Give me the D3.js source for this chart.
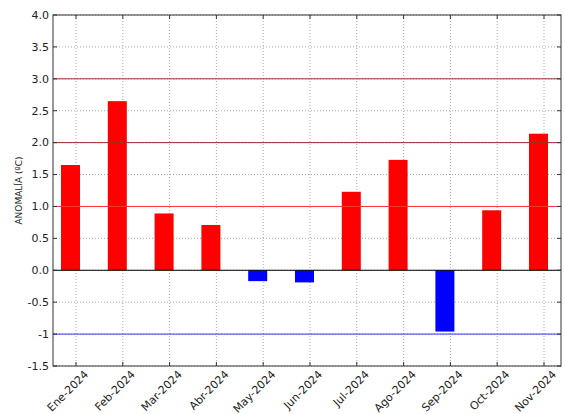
<!DOCTYPE html>
<html><head><meta charset="utf-8">
<script src="https://cdn.jsdelivr.net/npm/d3@7"></script>
<style>body{margin:0;background:#fff}text{font-family:"DejaVu Sans",sans-serif}</style>
</head><body><div id="chart"></div>
<script>
var months = ['Ene-2024','Feb-2024','Mar-2024','Abr-2024','May-2024','Jun-2024','Jul-2024','Ago-2024','Sep-2024','Oct-2024','Nov-2024'];
var anomalies = [1.65, 2.65, 0.89, 0.71, -0.17, -0.19, 1.23, 1.73, -0.96, 0.94, 2.14];
var yTicks = [-1.5, -1, -0.5, 0, 0.5, 1, 1.5, 2, 2.5, 3, 3.5, 4];
var yTickLabels = ['-1.5','-1','-0.5','0.0','0.5','1.0','1.5','2.0','2.5','3.0','3.5','4.0'];
var refLines = [[3, '#a52a2a'], [2, '#a52a2a'], [1, '#ff3333'], [0, '#000'], [-1, '#3333ff']];

var width = 565, height = 414;
var mLeft = 53, mRight = 561, mTop = 15, mBottom = 366;

var svg = d3.select('#chart').append('svg').attr('width', width).attr('height', height);

var x = d3.scaleLinear().domain([0, 10]).range([76, 544]);
var y = d3.scaleLinear().domain([-1.5, 4]).range([mBottom, mTop]);

// grid
svg.append('g').selectAll('line').data(yTicks).enter().append('line')
    .attr('x1', mLeft).attr('x2', mRight)
    .attr('y1', function(d) { return y(d); }).attr('y2', function(d) { return y(d); })
    .attr('stroke', '#aaa').attr('stroke-dasharray', '1,2');
svg.append('g').selectAll('line').data(months).enter().append('line')
    .attr('y1', mTop).attr('y2', mBottom)
    .attr('x1', function(d, i) { return x(i); }).attr('x2', function(d, i) { return x(i); })
    .attr('stroke', '#aaa').attr('stroke-dasharray', '1,2');

// bars (sit slightly left of the tick, as in the original)
var bw = 19;
svg.append('g').selectAll('rect').data(anomalies).enter().append('rect')
    .attr('x', function(d, i) { return x(i) - 15; })
    .attr('width', bw)
    .attr('y', function(d) { return y(Math.max(0, d)); })
    .attr('height', function(d) { return Math.abs(y(d) - y(0)); })
    .attr('fill', function(d) { return d >= 0 ? '#ff0000' : '#0000ff'; });

// reference lines
svg.append('g').selectAll('line').data(refLines).enter().append('line')
    .attr('x1', mLeft).attr('x2', mRight)
    .attr('y1', function(d) { return y(d[0]); }).attr('y2', function(d) { return y(d[0]); })
    .attr('stroke', function(d) { return d[1]; }).attr('stroke-width', 1);

// frame
svg.append('rect').attr('x', mLeft).attr('y', mTop).attr('width', mRight - mLeft).attr('height', mBottom - mTop)
    .attr('fill', 'none').attr('stroke', '#333');

// y ticks
var yAxis = svg.append('g');
yTicks.forEach(function(t, i) {
    yAxis.append('line').attr('x1', mLeft).attr('x2', mLeft + 4).attr('y1', y(t)).attr('y2', y(t)).attr('stroke', '#333');
    yAxis.append('line').attr('x1', mRight).attr('x2', mRight - 4).attr('y1', y(t)).attr('y2', y(t)).attr('stroke', '#333');
    yAxis.append('text').attr('x', mLeft - 4).attr('y', y(t)).attr('dy', '0.35em')
        .attr('text-anchor', 'end').attr('font-size', 11).attr('fill', '#222').text(yTickLabels[i]);
});

// x ticks
var xAxis = svg.append('g');
months.forEach(function(m, i) {
    xAxis.append('line').attr('x1', x(i)).attr('x2', x(i)).attr('y1', mBottom).attr('y2', mBottom - 4).attr('stroke', '#333');
    xAxis.append('line').attr('x1', x(i)).attr('x2', x(i)).attr('y1', mTop).attr('y2', mTop + 4).attr('stroke', '#333');
    xAxis.append('text').attr('transform', 'translate(' + (x(i) + 13) + ',' + (mBottom + 9) + ') rotate(-45)')
        .attr('text-anchor', 'end').attr('font-size', 11).attr('fill', '#222').text(m);
});

svg.append('text').attr('transform', 'translate(22,' + ((mTop + mBottom) / 2) + ') rotate(-90)')
    .attr('text-anchor', 'middle').attr('font-size', 9).attr('fill', '#222').text('ANOMALÍA (ºC)');
</script></body></html>
